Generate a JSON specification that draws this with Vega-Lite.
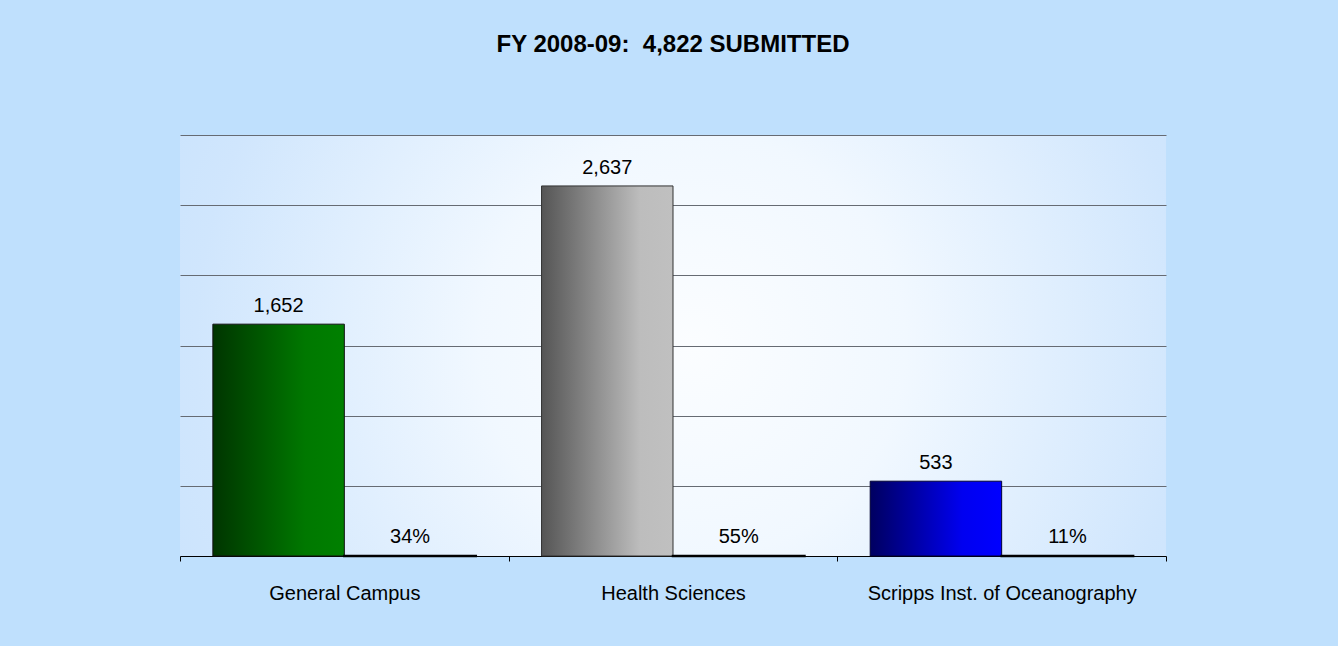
{
  "$schema": "https://vega.github.io/schema/vega-lite/v6.json",
  "width": 986,
  "height": 421,
  "autosize": {"type": "none"},
  "padding": {"left": 180, "top": 135, "right": 172, "bottom": 90},
  "background": "#BFE0FD",
  "title": {
    "text": "FY 2008-09:\u00a0 4,822 SUBMITTED",
    "font": "Liberation Sans",
    "fontSize": 24,
    "fontWeight": "bold",
    "color": "#000000",
    "anchor": "middle",
    "baseline": "alphabetic",
    "offset": 59,
    "letterSpacing": 1.2
  },
  "config": {
    "font": "Liberation Sans",
    "view": {
      "stroke": null,
      "fill": {
        "gradient": "radial",
        "x1": 0.52, "y1": 0.5, "r1": 0,
        "x2": 0.52, "y2": 0.5, "r2": 0.72,
        "stops": [
          {"offset": 0, "color": "#FBFDFF"},
          {"offset": 0.3, "color": "#F1F8FF"},
          {"offset": 0.7, "color": "#D0E6FD"},
          {"offset": 1, "color": "#C2E0FD"}
        ]
      }
    }
  },
  "data": {
    "values": [
      {"unit": "General Campus", "series": "Submitted", "value": 1652},
      {"unit": "General Campus", "series": "Percent", "value": 0.34},
      {"unit": "Health Sciences", "series": "Submitted", "value": 2637},
      {"unit": "Health Sciences", "series": "Percent", "value": 0.55},
      {"unit": "Scripps Inst. of Oceanography", "series": "Submitted", "value": 533},
      {"unit": "Scripps Inst. of Oceanography", "series": "Percent", "value": 0.11}
    ]
  },
  "encoding": {
    "x": {
      "field": "unit",
      "type": "nominal",
      "sort": ["General Campus", "Health Sciences", "Scripps Inst. of Oceanography"],
      "scale": {"paddingInner": 0, "paddingOuter": 0},
      "axis": {
        "title": null,
        "labelAngle": 0,
        "labelLimit": 0,
        "labelFont": "Liberation Sans",
        "labelFontSize": 20,
        "labelColor": "#000000",
        "labelPadding": 22,
        "tickSize": 5,
        "tickColor": "#000000",
        "tickBand": "extent",
        "domainColor": "#000000",
        "domainWidth": 1
      }
    },
    "xOffset": {
      "field": "series",
      "type": "nominal",
      "sort": ["Submitted", "Percent"],
      "scale": {"paddingInner": 0, "paddingOuter": 0.25}
    },
    "y": {
      "field": "value",
      "type": "quantitative",
      "scale": {"domain": [0, 3000], "nice": false},
      "axis": {
        "title": null,
        "labels": false,
        "ticks": false,
        "domain": false,
        "grid": true,
        "values": [500, 1000, 1500, 2000, 2500, 3000],
        "gridColor": "#666b73",
        "gridWidth": 1
      }
    }
  },
  "layer": [
    {
      "transform": [{"filter": "datum.series === 'Submitted' && datum.unit === 'General Campus'"}],
      "mark": {
        "type": "bar",
        "stroke": "#111111",
        "strokeWidth": 1,
        "fill": {
          "gradient": "linear", "x1": 0, "y1": 0, "x2": 1, "y2": 0,
          "stops": [
            {"offset": 0, "color": "#003500"},
            {"offset": 0.7, "color": "#007800"},
            {"offset": 1, "color": "#008000"}
          ]
        }
      }
    },
    {
      "transform": [{"filter": "datum.series === 'Submitted' && datum.unit === 'Health Sciences'"}],
      "mark": {
        "type": "bar",
        "stroke": "#333333",
        "strokeWidth": 1,
        "fill": {
          "gradient": "linear", "x1": 0, "y1": 0, "x2": 1, "y2": 0,
          "stops": [
            {"offset": 0, "color": "#555555"},
            {"offset": 0.75, "color": "#BDBDBD"},
            {"offset": 1, "color": "#C0C0C0"}
          ]
        }
      }
    },
    {
      "transform": [{"filter": "datum.series === 'Submitted' && datum.unit === 'Scripps Inst. of Oceanography'"}],
      "mark": {
        "type": "bar",
        "stroke": "#000033",
        "strokeWidth": 1,
        "fill": {
          "gradient": "linear", "x1": 0, "y1": 0, "x2": 1, "y2": 0,
          "stops": [
            {"offset": 0, "color": "#000060"},
            {"offset": 0.7, "color": "#0000F0"},
            {"offset": 1, "color": "#0000FF"}
          ]
        }
      }
    },
    {
      "transform": [{"filter": "datum.series === 'Percent'"}],
      "mark": {"type": "bar", "fill": "#000000", "stroke": "#000000", "strokeWidth": 2.5}
    },
    {
      "transform": [{"filter": "datum.series === 'Submitted'"}],
      "mark": {"type": "text", "baseline": "alphabetic", "dy": -12, "fontSize": 20, "font": "Liberation Sans", "color": "#000000"},
      "encoding": {"text": {"field": "value", "type": "quantitative", "format": ","}}
    },
    {
      "transform": [{"filter": "datum.series === 'Percent'"}],
      "mark": {"type": "text", "baseline": "alphabetic", "dy": -13, "fontSize": 20, "font": "Liberation Sans", "color": "#000000"},
      "encoding": {"text": {"field": "value", "type": "quantitative", "format": ".0%"}}
    }
  ]
}
